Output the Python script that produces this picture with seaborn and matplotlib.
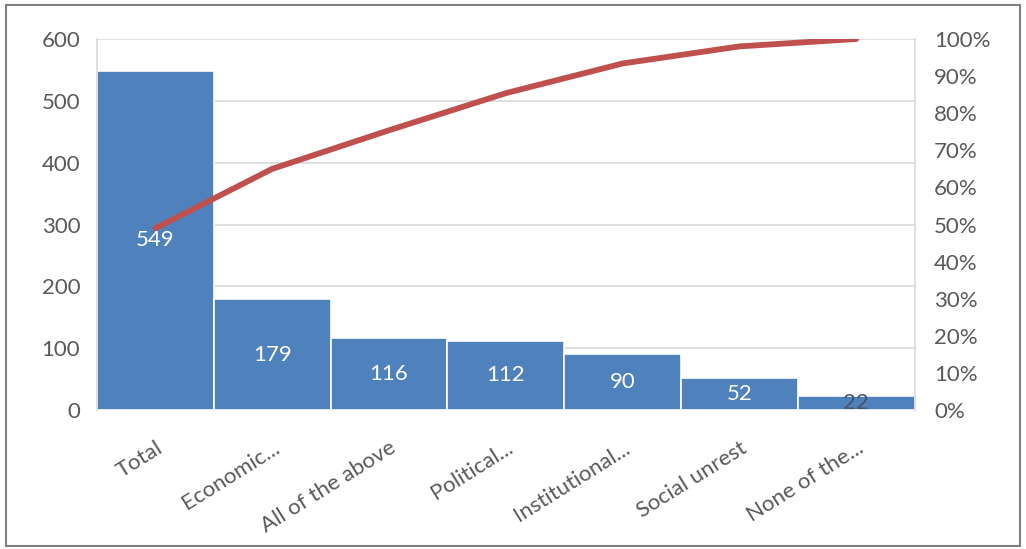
import numpy as np
import seaborn as sns
from matplotlib import pyplot as plt
from matplotlib.patches import Rectangle
from matplotlib.ticker import FuncFormatter

# chart data
categories = ["Total", "Economic...", "All of the above", "Political...",
              "Institutional...", "Social unrest", "None of the..."]
counts = [549, 179, 116, 112, 90, 52, 22]
cum_pct = [49.0, 65.0, 75.4, 85.4, 93.4, 98.0, 100.0]

bar_color = "#4F81BD"
line_color = "#C0504D"
text_color = "#595959"

sns.set_style("white")
plt.rcParams['font.family'] = ['Lato', 'DejaVu Sans']

fig = plt.figure(figsize=(10.26, 5.49), dpi=100)
ax = fig.add_axes([0.0945, 0.253, 0.797, 0.676])

sns.barplot(x=categories, y=counts, color=bar_color, width=1.0,
            edgecolor="white", linewidth=1.2, saturation=1, ax=ax, zorder=2)
ax.set_xlim(-0.5, len(categories) - 0.5)
ax.set_ylim(0, 600)
ax.set_yticks(range(0, 601, 100))
ax.yaxis.grid(True, color="#D9D9D9", linewidth=1.2, zorder=0)
ax.set_axisbelow(True)
for side in ["top", "bottom"]:
    ax.spines[side].set_visible(False)
for side in ["left", "right"]:
    ax.spines[side].set_color("#D9D9D9")
    ax.spines[side].set_linewidth(1.2)
ax.tick_params(axis="y", length=0, labelsize=16, labelcolor=text_color, pad=12)
ax.tick_params(axis="x", length=0, labelsize=16, labelcolor=text_color, pad=20)
plt.setp(ax.get_xticklabels(), rotation=32, ha="right", rotation_mode="anchor")
ax.set_xlabel("")
ax.set_ylabel("")

# value labels in the middle of each bar
for i, v in enumerate(counts):
    col = "white" if v > 40 else "#44546A"
    ax.text(i, v / 2, str(v), ha="center", va="center", fontsize=16,
            color=col, zorder=5)

ax2 = ax.twinx()
sns.lineplot(x=np.arange(len(categories)), y=cum_pct, color=line_color,
             linewidth=4.2, ax=ax2, zorder=4)
ax2.set_ylim(0, 100)
ax2.set_yticks(range(0, 101, 10))
ax2.yaxis.set_major_formatter(FuncFormatter(lambda v, p: f"{int(v)}%"))
ax2.tick_params(axis="y", length=0, labelsize=16, labelcolor=text_color, pad=14)
for side in ax2.spines:
    ax2.spines[side].set_visible(False)
ax2.set_xlim(-0.5, len(categories) - 0.5)

# outer frame
fig.patches.append(Rectangle((0.006, 0.006), 0.988, 0.984, transform=fig.transFigure,
                             fill=False, edgecolor="#7F7F7F", linewidth=1.5))

fig.savefig("out.png", dpi=100)
